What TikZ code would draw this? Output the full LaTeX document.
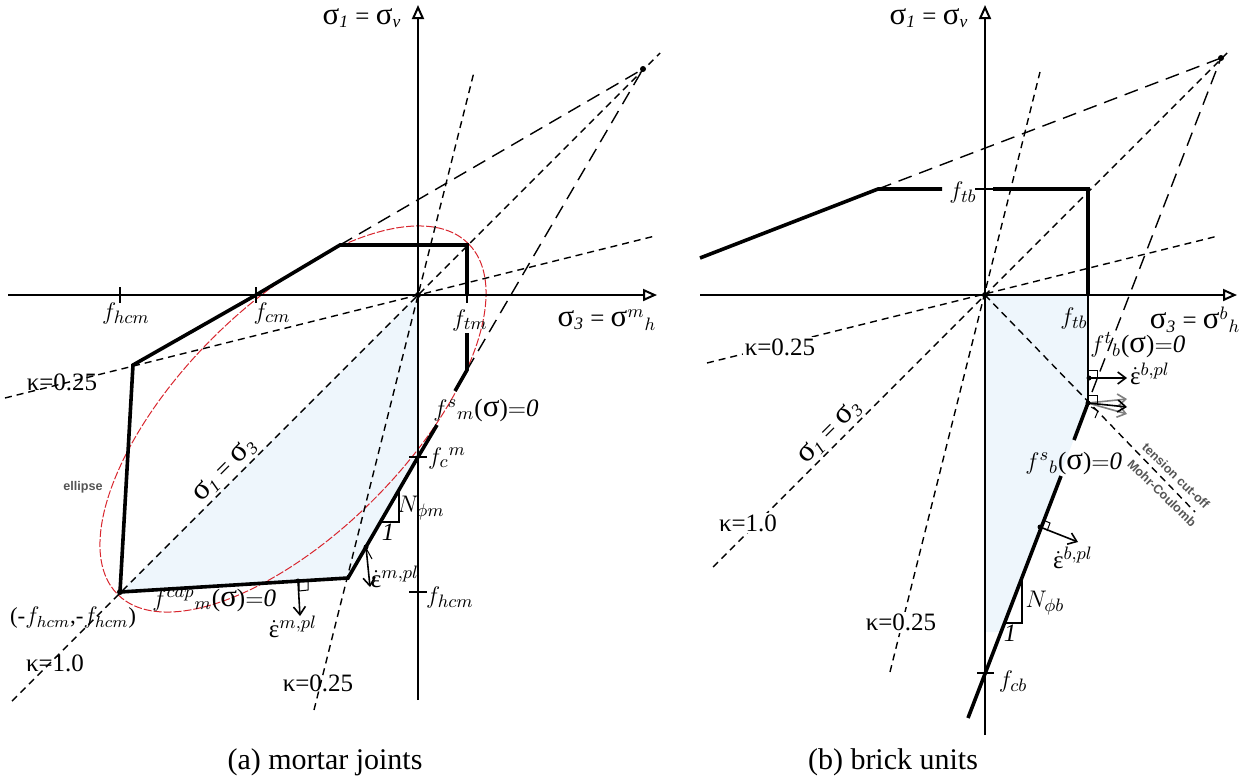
\documentclass[tikz,border=0pt]{standalone}
\usepackage{fontspec}
\setmainfont{Liberation Serif}
\newfontfamily\tagfont{Liberation Sans}
\usetikzlibrary{arrows.meta}
\definecolor{shadeblue}{HTML}{EEF6FC}
\definecolor{tagcol}{HTML}{555555}
\definecolor{ellred}{HTML}{D8262E}
\newcommand{\sg}{{\fontsize{15.5}{16}\selectfont σ}}
\newcommand{\epsdot}{$\dot{\hbox{ε}}$}
\newcommand{\eqz}{$\mathord{=}\mathit{0}$}
\begin{document}
\begin{tikzpicture}[x=0.5pt,y=-0.5pt,
  lbl/.style={font=\fontsize{12.5}{14}\selectfont, inner sep=0pt},
  wlbl/.style={lbl, fill=white, inner sep=1pt},
  captext/.style={font=\fontsize{15}{17}\selectfont, inner sep=0pt},
  tag/.style={font=\tagfont\bfseries\fontsize{6.3}{7}\selectfont, text=tagcol, inner sep=0pt},
  axisline/.style={line width=1pt, -{Triangle[open,length=7pt,width=6pt]}},
  yield/.style={line width=1.8pt},
  sdash/.style={line width=0.7pt, dash pattern=on 3.5pt off 2.5pt},
  ldash/.style={line width=0.7pt, dash pattern=on 7pt off 4pt},
  tickline/.style={line width=0.8pt},
  flow/.style={line width=0.8pt, -{Straight Barb[length=4pt,width=6pt]}},
  grayflow/.style={line width=0.8pt, draw=gray, -{Straight Barb[length=4pt,width=6pt]}},
  rmark/.style={line width=0.5pt},
  ell/.style={draw=ellred, line width=0.5pt, dash pattern=on 4pt off 1pt},
  pt/.style={circle, fill=black, inner sep=0pt, minimum size=3pt}
]
\useasboundingbox (0,0) rectangle (1247,782);

% ================= LEFT PANEL (mortar joints) =================
\coordinate (O1) at (418,295);
\coordinate (A1) at (120,592);
\coordinate (B1) at (133,365);
\coordinate (C1) at (256,295);
\coordinate (D1) at (340,245);
\coordinate (E1) at (467,245);
\coordinate (E1b) at (467,295);
\coordinate (E1c) at (467,303);
\coordinate (F1) at (467,333);
\coordinate (G1) at (467,370);
\coordinate (G1b) at (455,391);
\coordinate (H1a) at (437,425);
\coordinate (H1) at (418,457);
\coordinate (K1) at (348,578);
\coordinate (X1) at (643,69);

\fill[shadeblue] (O1) -- (H1) -- (K1) -- (A1) -- cycle;

% ellipse
\draw[ell, rotate around={45:(293,419)}] (293,419) ellipse [x radius=248, y radius=114];

% dashed rays
\coordinate (l1a) at (5,398);   \coordinate (l1b) at (655,236);
\coordinate (l2a) at (12,701);  \coordinate (l2b) at (660,53);
\coordinate (l3a) at (314,710); \coordinate (l3b) at (474,72);
\draw[sdash] (l1a) -- (l1b);
\draw[sdash] (l2a) -- (l2b);
\draw[sdash] (l3a) -- (l3b);
\draw[ldash] (D1) -- (X1);
\draw[ldash] (G1) -- (X1);
\node[pt] (x1dot) at (X1) {};

% axes
\coordinate (ax1l) at (8,295);   \coordinate (ax1r) at (657,295);
\coordinate (ay1b) at (418,700); \coordinate (ay1t) at (418,5);
\draw[axisline] (ax1l) -- (ax1r);
\draw[axisline] (ay1b) -- (ay1t);

% ticks
\draw[tickline] (120,287) -- (120,303);
\draw[tickline] (256,287) -- (256,303);
\draw[tickline] (409,457) -- (427,457);
\draw[tickline] (409,592) -- (427,592);
\draw[tickline] (E1b) -- (E1c);

% yield surface
\draw[yield, line join=miter] (A1) -- (B1) -- (C1) -- (D1) -- (E1) -- (E1b);
\draw[yield] (F1) -- (G1) -- (G1b);
\draw[yield] (H1a) -- (H1) -- (K1) -- (A1);
\node[pt] (o1dot) at (O1) {};
\node[pt] (a1dot) at (A1) {};

% slope triangle
\draw[line width=0.8pt] (399,490) -- (399,522) -- (380,522);

% flow arrows
\coordinate (fc1) at (298,581); \coordinate (fc1e) at (300,616);
\draw[flow] (fc1) -- (fc1e);
\node[pt, minimum size=2.5pt] (fc1dot) at (fc1) {};
\draw[rmark] (299,581) -- (299,591) -- (308,590) -- (308,580);
\coordinate (fs1) at (366,547); \coordinate (fs1e) at (370,587);
\draw[flow] (fs1) -- (fs1e);
\node[pt, minimum size=2.5pt] (fs1dot) at (fs1) {};
\draw[rmark] (360,557) -- (366,548) -- (372,559);

% labels
\node[lbl] (s1L) at (362,18) {\sg$_{\mathit{1}}$ = \sg$_{\mathit{v}}$};
\node[lbl] (s3L) at (607,320) {\sg$_{\mathit{3}}$ = \sg$^{m}{}_{h}$};
\node[lbl] (fhcmL) at (126,313) {$f_{hcm}$};
\node[lbl] (fcmL) at (272,313) {$f_{cm}$};
\node[lbl] (ftmL) at (470,320) {$f_{tm}$};
\node[lbl] (k1L) at (62,382) {κ=0.25};
\node[lbl] (k2L) at (55,663) {κ=1.0};
\node[lbl] (k3L) at (318,683) {κ=0.25};
\node[tag] (ellL) at (83,487) {ellipse};
\node[lbl, rotate=45] (diagL) at (225,470) {\sg$_{\mathit{1}}$ = \sg$_{\mathit{3}}$};
\node[lbl, font=\fontsize{11.5}{13}\selectfont] (ptL) at (73,618) {(-$f_{hcm}$,-$f_{hcm}$)};
\node[lbl, anchor=west] (capL) at (152,600) {$f^{cap}{}_{m}$(\sg)\eqz};
\node[lbl] (ep1L) at (293,627) {\epsdot$^{m,pl}$};
\node[lbl] (ep2L) at (395,577) {\epsdot$^{m,pl}$};
\node[lbl] (NmL) at (421,508) {$N_{\phi m}$};
\node[lbl] (oneL) at (388,532) {$\mathit{1}$};
\node[lbl] (fcmmL) at (447,458) {$f_{c}{}^{m}$};
\node[lbl] (fhcm2L) at (450,597) {$f_{hcm}$};
\node[lbl, anchor=west] (fsmL) at (433,410) {$f^{s}{}_{m}$(\sg)\eqz};

% ================= RIGHT PANEL (brick units) =================
\coordinate (O2) at (985,295);
\coordinate (A2) at (700,258);
\coordinate (B2) at (878,189);
\coordinate (B2b) at (942,189);
\coordinate (C2a) at (993,189);
\coordinate (C2) at (1088,189);
\coordinate (C2b) at (1088,295);
\coordinate (D2) at (1088,403);
\coordinate (D2a) at (1074,440);
\coordinate (E2a) at (1061,476);
\coordinate (E2) at (968,718);
\coordinate (X2) at (1221,58);

\fill[shadeblue] (O2) -- (C2b) -- (D2) -- (999,632) -- (985,632) -- cycle;

\coordinate (r1a) at (707,363);  \coordinate (r1b) at (1218,236);
\coordinate (r2a) at (713,567);  \coordinate (r2b) at (1230,50);
\coordinate (r3a) at (890,672);  \coordinate (r3b) at (1040,72);
\coordinate (r4b) at (1195,512);
\draw[sdash] (r1a) -- (r1b);
\draw[sdash] (r2a) -- (r2b);
\draw[sdash] (r3a) -- (r3b);
\draw[sdash] (O2) -- (r4b);
\draw[ldash] (B2) -- (X2);
\draw[ldash] (1092,392) -- (X2);
\node[pt] (x2dot) at (X2) {};

\coordinate (ax2l) at (700,295);  \coordinate (ax2r) at (1237,295);
\coordinate (ay2b) at (985,735);  \coordinate (ay2t) at (985,5);
\draw[axisline] (ax2l) -- (ax2r);
\draw[axisline] (ay2b) -- (ay2t);

\draw[tickline] (975,189) -- (C2a);
\draw[tickline] (977,673) -- (994,673);

\draw[yield] (A2) -- (B2) -- (B2b);
\draw[yield, line join=miter] (C2a) -- (C2) -- (C2b);
\draw[line width=1.3pt] (C2b) -- (D2);
\draw[yield] (D2) -- (D2a);
\draw[yield] (E2a) -- (E2);
\node[pt] (o2dot) at (O2) {};

% slope triangle
\draw[line width=0.8pt] (1022,576) -- (1022,623) -- (1003,623);

% flow arrows
\coordinate (ft2) at (1089,378); \coordinate (ft2e) at (1127,378);
\draw[rmark] (1089,370) -- (1097,370) -- (1097,378);
\draw[flow] (ft2) -- (ft2e);
\node[pt, minimum size=2.5pt] (ft2dot) at (ft2) {};
\draw[grayflow] (D2) -- (1127,399);
\draw[grayflow] (D2) -- (1127,414);
\draw[flow] (D2) -- (1127,407);
\draw[rmark] (1089,395) -- (1097,395) -- (1097,403);
\draw[rmark] (1091,407) -- (1098,411) -- (1095,418);
\node[pt, minimum size=2.5pt] (d2dot) at (D2) {};
\coordinate (fs2) at (1040,527); \coordinate (fs2e) at (1078,542);
\draw[flow] (fs2) -- (fs2e);
\draw[rmark] (1043,520) -- (1050,523) -- (1047,531);
\node[pt, minimum size=2.5pt] (fs2dot) at (fs2) {};

% labels
\node[lbl] (s1R) at (929,18) {\sg$_{\mathit{1}}$ = \sg$_{\mathit{v}}$};
\node[lbl] (s3R) at (1195,320) {\sg$_{\mathit{3}}$ = \sg$^{b}{}_{h}$};
\node[lbl] (ftbU) at (963,192) {$f_{tb}$};
\node[lbl] (ftbL) at (1074,318) {$f_{tb}$};
\node[lbl, anchor=west] (ftbfL) at (1090,345) {$f^{t}{}_{b}$(\sg)\eqz};
\node[lbl] (ep3L) at (1150,374) {\epsdot$^{b,pl}$};
\node[lbl, anchor=west] (fsbL) at (1025,463) {$f^{s}{}_{b}$(\sg)\eqz};
\node[tag, rotate=-44] (tcoL) at (1176,476) {tension cut-off};
\node[tag, rotate=-44] (mcL) at (1162,493) {Mohr-Coulomb};
\node[lbl] (ep4L) at (1073,558) {\epsdot$^{b,pl}$};
\node[lbl] (NbL) at (1045,603) {$N_{\phi b}$};
\node[lbl] (one2L) at (1010,633) {$\mathit{1}$};
\node[lbl] (fcbL) at (1013,681) {$f_{cb}$};
\node[wlbl] (k4L) at (780,347) {κ=0.25};
\node[wlbl] (k5L) at (748,523) {κ=1.0};
\node[wlbl] (k6L) at (901,622) {κ=0.25};
\node[lbl, rotate=45] (diagR) at (830,432) {\sg$_{\mathit{1}}$ = \sg$_{\mathit{3}}$};

% captions
\node[captext] (capA) at (325,762) {(a) mortar joints};
\node[captext] (capB) at (893,762) {(b) brick units};
\end{tikzpicture}
\end{document}
